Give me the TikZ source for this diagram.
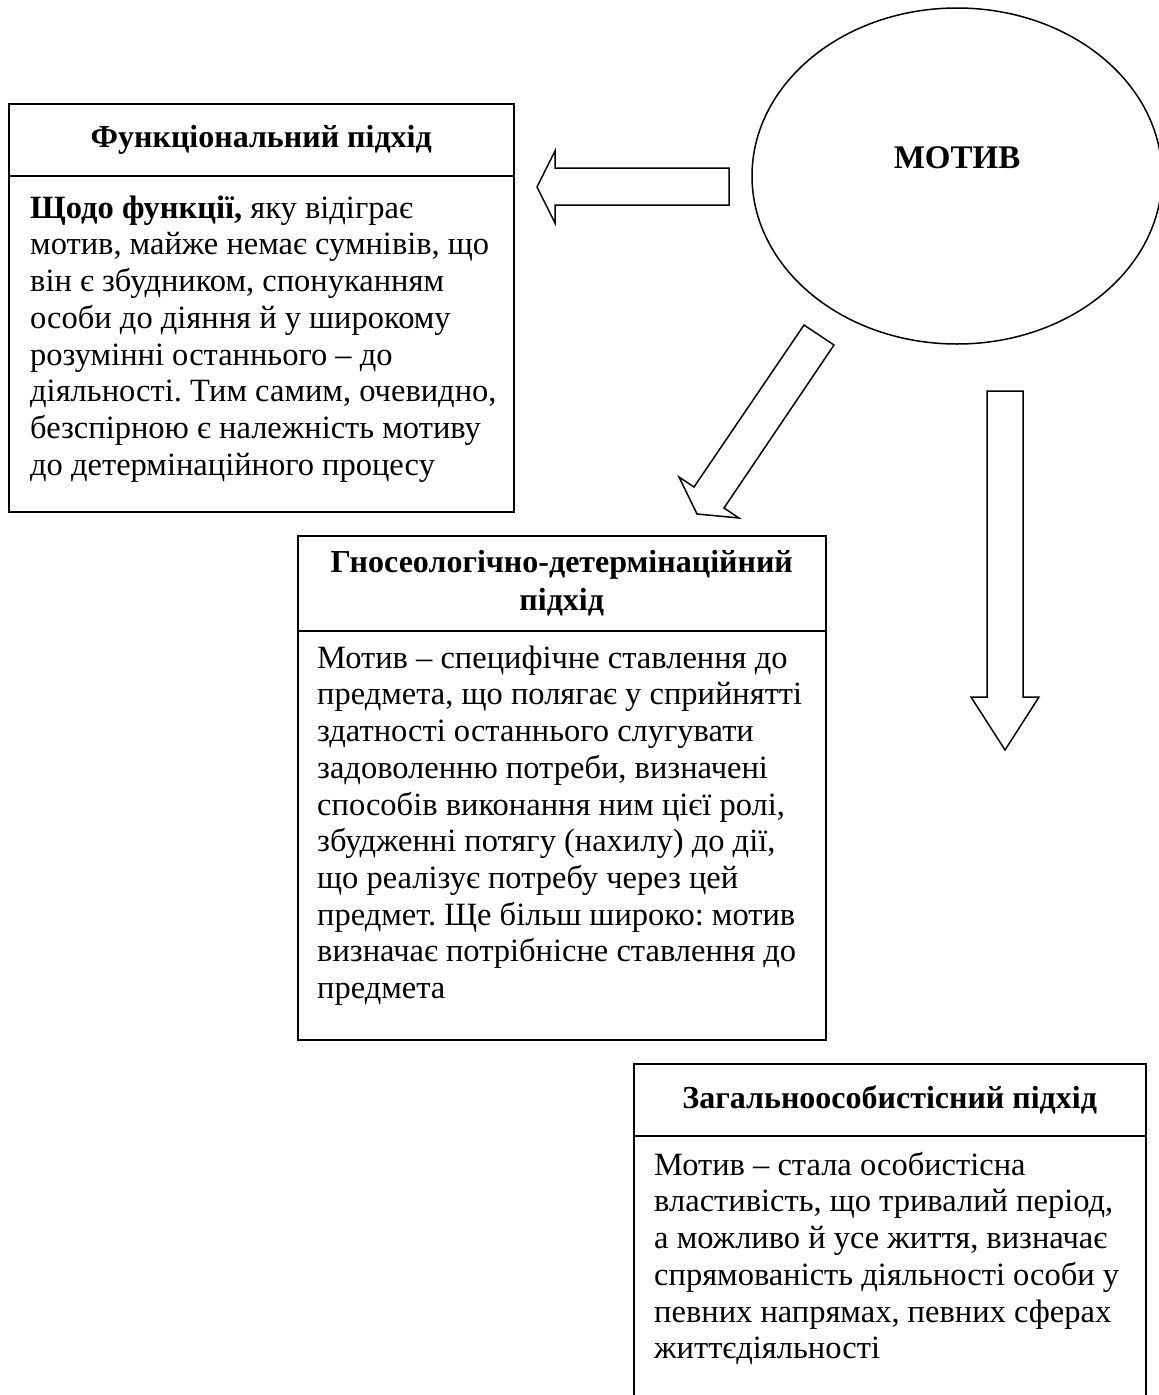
\documentclass[tikz,border=0pt]{standalone}
\usepackage{fontspec}
\setmainfont{Liberation Serif}
\usetikzlibrary{shapes.geometric}
\frenchspacing
\begin{document}
\begin{tikzpicture}[x=1pt,y=-1pt,
  frame/.style={draw, line width=1.5pt, rectangle, inner sep=0pt, anchor=north west},
  ttl/.style={font=\fontsize{32}{37.5}\selectfont\bfseries, align=center, inner sep=0pt},
  bodytxt/.style={font=\fontsize{32.5}{36.7}\selectfont\frenchspacing, align=left, anchor=north west, inner sep=0pt},
  blk/.style={draw, line width=1.5pt, line join=miter}]
\useasboundingbox (0,0) rectangle (1159,1395);

% ellipse
\node[draw, ellipse, line width=1.5pt, inner sep=0pt, minimum width=410pt, minimum height=336pt] (motiv) at (957,176) {};
\node[font=\fontsize{33}{36}\selectfont\bfseries, inner sep=0pt] (motivt) at (957,158) {МОТИВ};

% box 1
\node[frame, minimum width=505pt, minimum height=72pt] (ft) at (8,103) {};
\node[ttl] (ftt) at (ft.center) {Функціональний підхід};
\node[frame, minimum width=505pt, minimum height=336pt] (fb) at (8,175) {};
\node[bodytxt] (fbt) at (30,193) {\rule{0pt}{25pt}\textbf{Щодо функції,} яку відіграє\\
мотив, майже немає сумнівів, що\\
він є збудником, спонуканням\\
особи до діяння й у широкому\\
розумінні останнього – до\\
діяльності. Тим самим, очевидно,\\
безспірною є належність мотиву\\
до детермінаційного процесу};

% box 2
\node[frame, minimum width=528pt, minimum height=95pt] (gt) at (297,535) {};
\node[ttl] (gtt) at (gt.center) {Гносеологічно-детермінаційний\\підхід};
\node[frame, minimum width=528pt, minimum height=409pt] (gb) at (297,630) {};
\node[bodytxt] (gbt) at (317,643) {\rule{0pt}{25pt}Мотив – специфічне ставлення до\\
предмета, що полягає у сприйнятті\\
здатності останнього слугувати\\
задоволенню потреби, визначені\\
способів виконання ним цієї ролі,\\
збудженні потягу (нахилу) до дії,\\
що реалізує потребу через цей\\
предмет. Ще більш широко: мотив\\
визначає потрібнісне ставлення до\\
предмета};

% box 3
\node[frame, minimum width=512pt, minimum height=72pt] (zt) at (633,1063) {};
\node[ttl] (ztt) at (zt.center) {Загальноособистісний підхід};
\node[frame, minimum width=512pt, minimum height=320pt] (zb) at (633,1135) {};
\node[bodytxt] (zbt) at (654,1150) {\rule{0pt}{25pt}Мотив – стала особистісна\\
властивість, що тривалий період,\\
а можливо й усе життя, визначає\\
спрямованість діяльності особи у\\
певних напрямах, певних сферах\\
життєдіяльності};

% block arrows
\draw[blk] (729,168) -- (555,168) -- (555,151) -- (537,187) -- (555,223) -- (555,205) -- (729,205) -- cycle;
\draw[blk] (804,325) -- (834,345) -- (724,508) -- (739,518) -- (697,514) -- (679,477) -- (694,487) -- cycle;
\draw[blk] (987,391) -- (1023,391) -- (1023,697) -- (1039,697) -- (1005,750) -- (971,697) -- (987,697) -- cycle;
\end{tikzpicture}
\end{document}
